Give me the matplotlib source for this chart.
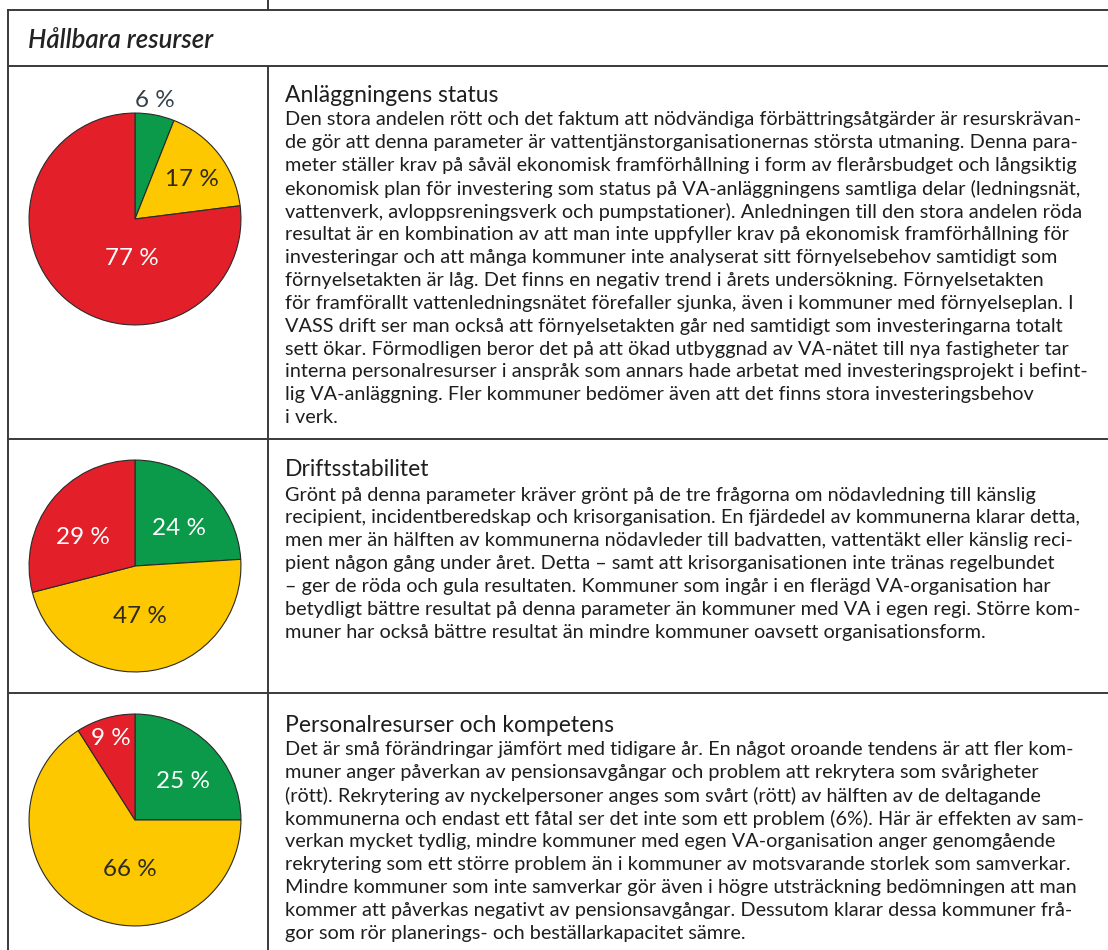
import matplotlib
matplotlib.use("Agg")
import matplotlib.pyplot as plt

W, H = 1108, 950

header = "Hållbara resurser"
row_titles = ["Anläggningens status", "Driftsstabilitet", "Personalresurser och kompetens"]

green_share = [6, 24, 25]
yellow_share = [17, 47, 66]
red_share = [77, 29, 9]

body_1 = [
    "Den stora andelen rött och det faktum att nödvändiga förbättringsåtgärder är resurskrävan-",
    "de gör att denna parameter är vattentjänstorganisationernas största utmaning. Denna para-",
    "meter ställer krav på såväl ekonomisk framförhållning i form av flerårsbudget och långsiktig",
    "ekonomisk plan för investering som status på VA-anläggningens samtliga delar (ledningsnät,",
    "vattenverk, avloppsreningsverk och pumpstationer). Anledningen till den stora andelen röda",
    "resultat är en kombination av att man inte uppfyller krav på ekonomisk framförhållning för",
    "investeringar och att många kommuner inte analyserat sitt förnyelsebehov samtidigt som",
    "förnyelsetakten är låg. Det finns en negativ trend i årets undersökning. Förnyelsetakten",
    "för framförallt vattenledningsnätet förefaller sjunka, även i kommuner med förnyelseplan. I",
    "VASS drift ser man också att förnyelsetakten går ned samtidigt som investeringarna totalt",
    "sett ökar. Förmodligen beror det på att ökad utbyggnad av VA-nätet till nya fastigheter tar",
    "interna personalresurser i anspråk som annars hade arbetat med investeringsprojekt i befint-",
    "lig VA-anläggning. Fler kommuner bedömer även att det finns stora investeringsbehov",
    "i verk.",
]
body_2 = [
    "Grönt på denna parameter kräver grönt på de tre frågorna om nödavledning till känslig",
    "recipient, incidentberedskap och krisorganisation. En fjärdedel av kommunerna klarar detta,",
    "men mer än hälften av kommunerna nödavleder till badvatten, vattentäkt eller känslig reci-",
    "pient någon gång under året. Detta – samt att krisorganisationen inte tränas regelbundet",
    "– ger de röda och gula resultaten. Kommuner som ingår i en flerägd VA-organisation har",
    "betydligt bättre resultat på denna parameter än kommuner med VA i egen regi. Större kom-",
    "muner har också bättre resultat än mindre kommuner oavsett organisationsform.",
]
body_3 = [
    "Det är små förändringar jämfört med tidigare år. En något oroande tendens är att fler kom-",
    "muner anger påverkan av pensionsavgångar och problem att rekrytera som svårigheter",
    "(rött). Rekrytering av nyckelpersoner anges som svårt (rött) av hälften av de deltagande",
    "kommunerna och endast ett fåtal ser det inte som ett problem (6%). Här är effekten av sam-",
    "verkan mycket tydlig, mindre kommuner med egen VA-organisation anger genomgående",
    "rekrytering som ett större problem än i kommuner av motsvarande storlek som samverkar.",
    "Mindre kommuner som inte samverkar gör även i högre utsträckning bedömningen att man",
    "kommer att påverkas negativt av pensionsavgångar. Dessutom klarar dessa kommuner frå-",
    "gor som rör planerings- och beställarkapacitet sämre.",
]
bodies = [body_1, body_2, body_3]

colors = ["#0b9a49", "#fdc800", "#e31f2a"]
label_colors = ["white", "#2e2a1c", "white"]
font = ["Lato", "DejaVu Sans"]

# layout (pixels from top-left)
pie_centers = [(135, 219), (135, 566), (135, 820)]
pie_r = 107
label_pos = [  # per pie, per wedge, in radius units (x right, y up)
    [(0.19, 1.12), (0.54, 0.37), (-0.03, -0.37)],
    [(0.42, 0.35), (0.05, -0.48), (-0.49, 0.27)],
    [(0.45, 0.36), (-0.05, -0.47), (-0.23, 0.77)],
]
title_y = [95, 470, 725]
line_gap = 22.9

fig = plt.figure(figsize=(W / 100, H / 100), dpi=100)
ax = fig.add_axes([0, 0, 1, 1])
ax.set_xlim(0, W)
ax.set_ylim(H, 0)
ax.axis("off")

lc = "#3a3a3a"
lw = 1.4
ax.plot([8, W], [10, 10], color=lc, lw=lw)
ax.plot([8, W], [66, 66], color=lc, lw=lw)
ax.plot([8, W], [439, 439], color=lc, lw=lw)
ax.plot([8, W], [693, 693], color=lc, lw=lw)
ax.plot([8, 8], [10, H], color=lc, lw=lw)
ax.plot([268, 268], [0, 10], color=lc, lw=lw)
ax.plot([268, 268], [66, H], color=lc, lw=lw)

ax.text(28, 40, header, fontsize=18.5, style="italic", fontweight="semibold",
        family=font, color="#222222", va="center", ha="left")

# pies
for i in range(3):
    cx, cy = pie_centers[i]
    pax = fig.add_axes([(cx - pie_r) / W, (H - cy - pie_r) / H, 2 * pie_r / W, 2 * pie_r / H])
    vals = [green_share[i], yellow_share[i], red_share[i]]
    pax.pie(vals, colors=colors, startangle=90, counterclock=False, radius=1,
            wedgeprops=dict(edgecolor="#2a2a2a", linewidth=0.8))
    pax.set_xlim(-1.01, 1.01)
    pax.set_ylim(-1.01, 1.01)
    pax.set_aspect("equal")
    pax.axis("off")
    for j, v in enumerate(vals):
        lx, ly = label_pos[i][j]
        col = label_colors[j]
        if abs(lx) > 1 or abs(ly) > 1:
            col = "#34404a"
        pax.text(lx, ly, f"{v} %", fontsize=17.5, family=font, color=col,
                 ha="center", va="center", zorder=5, clip_on=False)

# body text, fitted to the column width
body_texts = []
for i in range(3):
    ax.text(285, title_y[i], row_titles[i], fontsize=16.5, family=font,
            color="#1e1e1e", va="center", ha="left")
    for k, line in enumerate(bodies[i]):
        t = ax.text(285, title_y[i] + 25 + k * line_gap, line, fontsize=11, family=font,
                    color="#1e1e1e", va="center", ha="left")
        body_texts.append(t)

fig.canvas.draw()
r = fig.canvas.get_renderer()
widest = max(t.get_window_extent(r).width for t in body_texts)
size = 11 * 805 / widest
for t in body_texts:
    t.set_fontsize(size)

fig.savefig("out.png", dpi=100, facecolor="white")
